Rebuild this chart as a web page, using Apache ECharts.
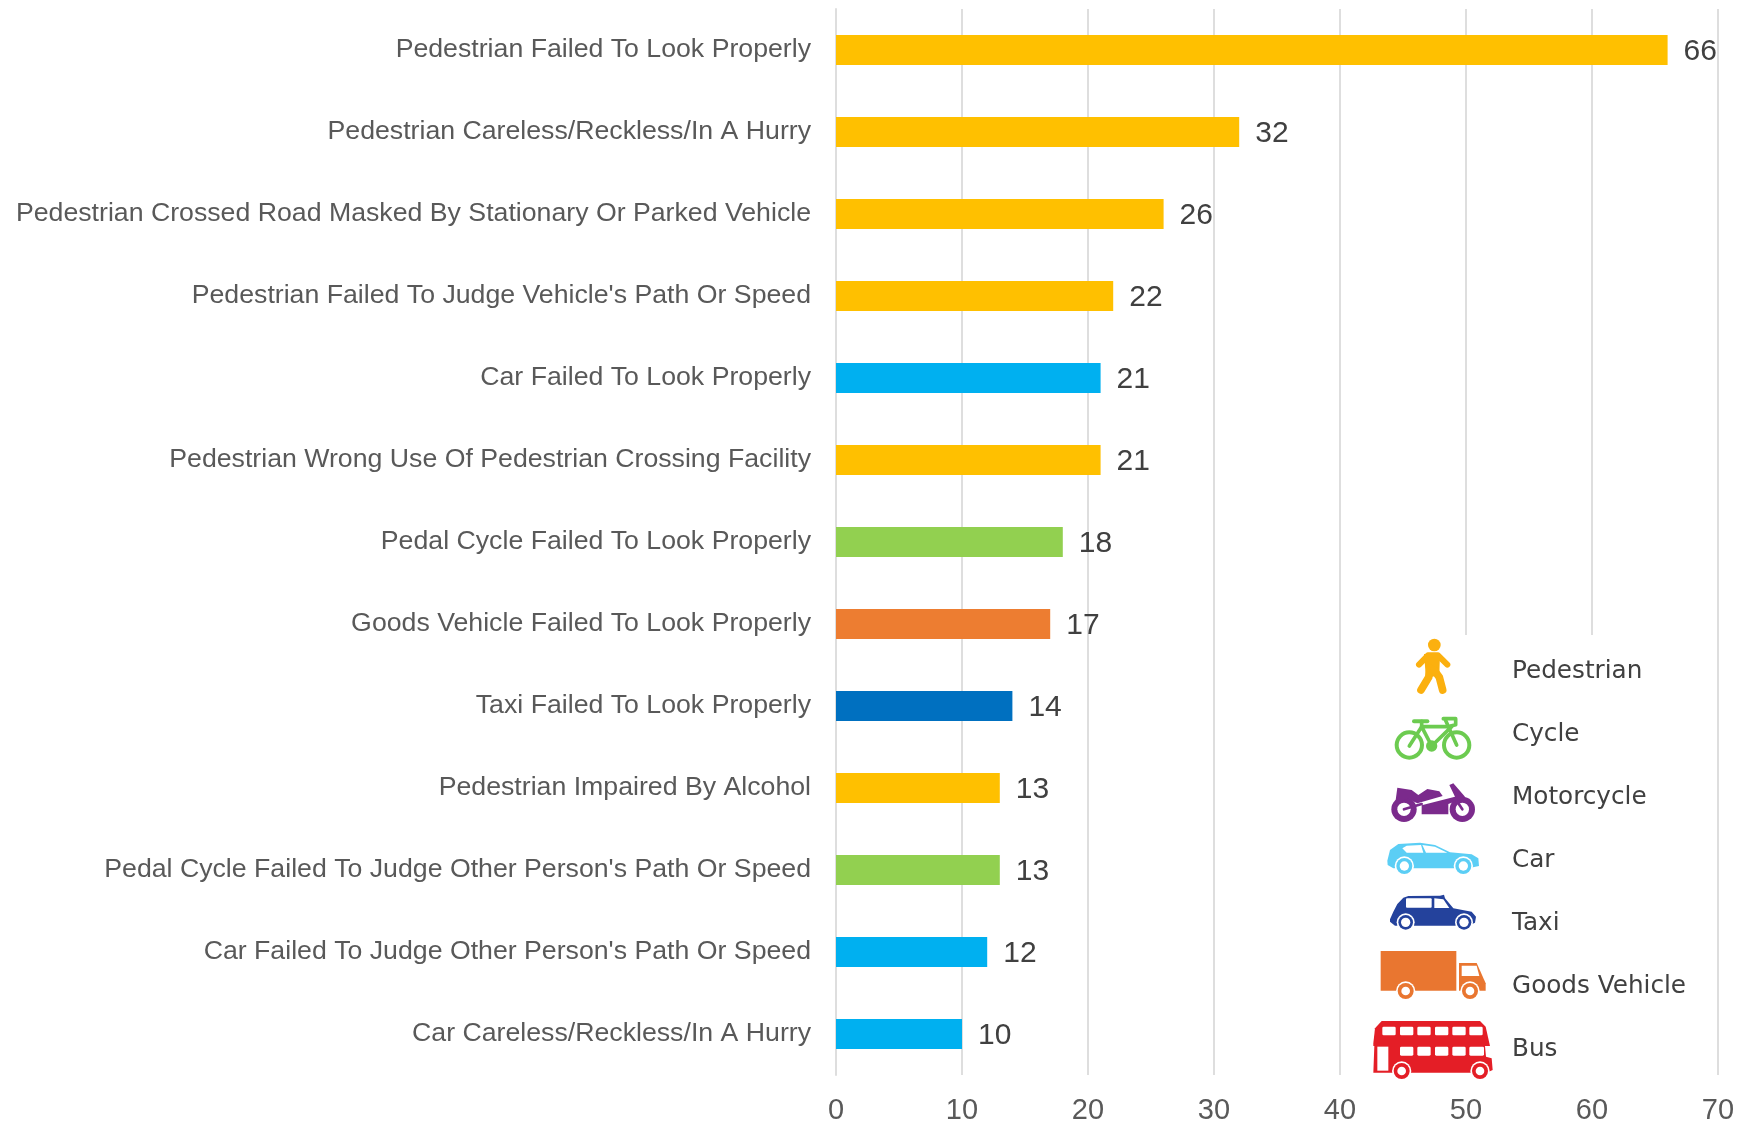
<!DOCTYPE html>
<html><head><meta charset="utf-8">
<style>html,body{margin:0;padding:0;background:#fff}#c{width:1756px;height:1125px}</style>
<script src="https://cdn.jsdelivr.net/npm/echarts@6/dist/echarts.min.js"></script>
</head><body><div id="c"></div>
<script>
const categories = ["Pedestrian Failed To Look Properly","Pedestrian Careless/Reckless/In A Hurry","Pedestrian Crossed Road Masked By Stationary Or Parked Vehicle","Pedestrian Failed To Judge Vehicle's Path Or Speed","Car Failed To Look Properly","Pedestrian Wrong Use Of Pedestrian Crossing Facility","Pedal Cycle Failed To Look Properly","Goods Vehicle Failed To Look Properly","Taxi Failed To Look Properly","Pedestrian Impaired By Alcohol","Pedal Cycle Failed To Judge Other Person's Path Or Speed","Car Failed To Judge Other Person's Path Or Speed","Car Careless/Reckless/In A Hurry"];
const values = [66,32,26,22,21,21,18,17,14,13,13,12,10];
const roadUsers = ["Pedestrian","Pedestrian","Pedestrian","Pedestrian","Car","Pedestrian","Cycle","Goods Vehicle","Taxi","Pedestrian","Cycle","Car","Car"];
const barColors = {"Pedestrian":"#FFC000","Car":"#00B0F0","Cycle":"#92D050","Goods Vehicle":"#ED7D31","Taxi":"#0070C0"};
const legendNames = ["Pedestrian","Cycle","Motorcycle","Car","Taxi","Goods Vehicle","Bus"];
const legendY = [672,735,798,861,924,987,1050];

const poly=(points,fill)=>({type:'polygon',z:6,shape:{points},style:{fill}});
const line=(points,stroke,lineWidth)=>({type:'polyline',z:6,shape:{points},style:{fill:null,stroke,lineWidth,lineCap:'round',lineJoin:'round'}});
const circ=(cx,cy,r,fill)=>({type:'circle',z:6,shape:{cx,cy,r},style:{fill}});
const box=(x1,y1,x2,y2,fill,r)=>({type:'rect',z:6,shape:{x:x1,y:y1,width:x2-x1,height:y2-y1,r:r||0},style:{fill}});
const wheel=(x,y,R,r,c,halo)=>[...(halo?[circ(x,y,R+halo,'#fff')]:[]),circ(x,y,R,c),circ(x,y,r,'#fff')];
const icon=(oy,children)=>({type:'group',x:1340,y:oy,scaleX:1/3,scaleY:1/3,z:6,children});

const ped='#FBB00F',cyc='#6CCB50',mot='#7B2A8C',car='#5BCEF5',tax='#24429C',gds='#E97630',bus='#E41E26';
const icons=[
 icon(620,[circ(283,75,19,ped),line([[237,134],[264,106],[294,106],[322,134]],ped,18),
  poly([[252,102],[300,102],[298,165],[258,175]],ped),line([[270,145],[266,172],[243,210]],ped,23),line([[282,150],[298,172],[308,210]],ped,23)]),
 icon(620,[...wheel(208,375,44,32,cyc),...wheel(350,375,44,32,cyc),
  line([[208,378],[245,320],[275,378],[335,320],[245,320]],cyc,11),line([[315,297],[350,375]],cyc,11),
  line([[222,304],[262,304]],cyc,12),line([[245,304],[245,320]],cyc,11),line([[310,296],[347,296],[347,314],[332,318]],cyc,11),circ(275,378,17,cyc)]),
 icon(620,[...wheel(192,568,38,20,mot),...wheel(367,568,38,20,mot),
  poly([[172,503],[215,510],[235,525],[262,507],[298,514],[308,528],[232,550],[222,545],[205,535],[165,555]],mot),
  poly([[245,556],[345,530],[328,495],[340,490],[375,530],[358,540],[325,552],[325,583],[245,583]],mot),
  line([[192,568],[245,552]],mot,8),line([[367,568],[345,535]],mot,8)]),
 icon(620,[poly([[142,722],[150,690],[175,672],[240,668],[285,675],[330,697],[395,703],[415,715],[417,738],[385,745],[160,745],[143,735]],car),
  poly([[187,685],[200,677],[243,675],[250,698],[200,698]],'#fff'),poly([[247,675],[285,680],[322,698],[258,698]],'#fff'),
  ...wheel(193,738,24,14,car,5),...wheel(370,738,24,14,car,5)]),
 icon(880,[poly([[150,118],[160,95],[172,72],[190,53],[205,48],[300,47],[312,44],[315,55],[340,85],[395,95],[408,110],[405,128],[385,137],[165,137],[150,125]],tax),
  box(198,55,275,83,'#fff',3),poly([[283,55],[310,58],[328,84],[283,84]],'#fff'),
  ...wheel(197,127,22,14,tax,5),...wheel(372,127,22,14,tax,5)]),
 icon(880,[box(122,213,349,332,gds),poly([[357,249],[410,249],[437,310],[437,332],[357,332]],gds),
  poly([[365,257],[410,257],[418,288],[365,288]],'#fff'),...wheel(197,333,24,13,gds,5),...wheel(390,333,24,13,gds,5)]),
 icon(880,[poly([[100,490],[105,445],[125,423],[420,423],[437,440],[450,498],[100,498]],bus),
  poly([[103,498],[435,498],[438,530],[455,535],[458,570],[440,578],[100,578]],bus),box(112,500,145,572,'#fff'),
  ...[[127,167],[180,220],[232,272],[285,325],[337,377],[388,428]].map(a=>box(a[0],440,a[1],466,'#fff',4)),
  ...[[180,220],[232,272],[285,325],[337,377],[388,432]].map(a=>box(a[0],500,a[1],527,'#fff',4)),
  ...wheel(185,573,24,13,bus,5),...wheel(420,573,24,13,bus,5)])
];

const chart=echarts.init(document.getElementById('c'),null,{renderer:'canvas'});
chart.setOption({
 animation:false,
 backgroundColor:'#fff',
 grid:{left:836,right:38,top:9,bottom:50,containLabel:false},
 xAxis:{type:'value',min:0,max:70,interval:10,
  axisLine:{show:false},axisTick:{show:false},
  axisLabel:{fontFamily:'Liberation Sans',fontSize:29,color:'#595959',margin:21},
  splitLine:{show:true,lineStyle:{color:'#DEDEDE',width:2}}},
 yAxis:{type:'category',inverse:true,data:categories,
  axisLine:{show:true,lineStyle:{color:'#DEDEDE',width:2}},axisTick:{show:false},
  axisLabel:{fontFamily:'Liberation Sans',fontSize:26.7,color:'#595959',margin:25,lineHeight:33,padding:[2,0,0,0]}},
 series:[{type:'bar',barWidth:30,
  data:values.map((v,i)=>({value:v,itemStyle:{color:barColors[roadUsers[i]]}})),
  label:{show:true,position:'right',distance:16,offset:[0,2],fontFamily:'Liberation Sans',fontSize:30,color:'#404040'}}],
 graphic:{elements:[
  {type:'rect',z:5,shape:{x:1345,y:635,width:370,height:441},style:{fill:'#fff'}},
  ...icons,
  ...legendNames.map((t,i)=>({type:'text',z:6,x:1512,y:legendY[i],style:{text:t,fontFamily:'DejaVu Sans',fontSize:24.7,fill:'#404040',verticalAlign:'middle'}}))
 ]}
});
</script></body></html>
